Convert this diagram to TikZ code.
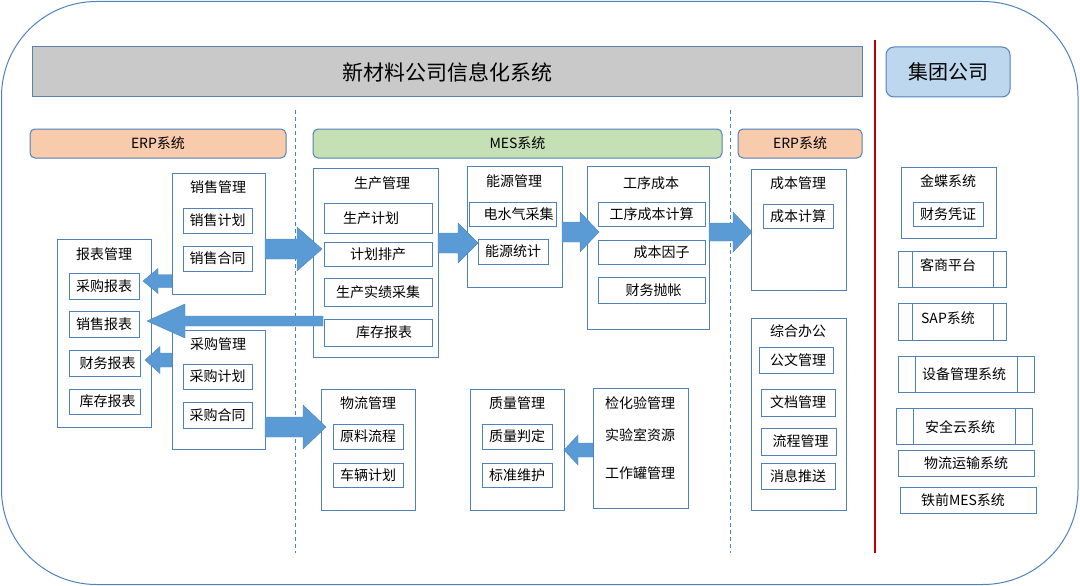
\documentclass[tikz,border=0pt]{standalone}
\usepackage{fontspec}
\setmainfont{Noto Sans CJK SC}
\usetikzlibrary{calc}
\definecolor{bline}{RGB}{79,129,189}
\definecolor{arrfill}{RGB}{91,155,213}
\definecolor{gtitle}{RGB}{201,201,201}
\definecolor{peach}{RGB}{248,203,173}
\definecolor{lgreen}{RGB}{197,224,180}
\definecolor{lblue}{RGB}{189,215,238}
\definecolor{dred}{RGB}{192,0,0}
\newcommand\bx[7][]{\node[box,#1,minimum width={#5-#3},minimum height={#6-#4}] (#2) at ({(#3+#5)/2},{(#4+#6)/2}) {#7};}
\newcommand\barrow[6]{\fill[arr] (#1,{#4-#5}) -- (#2,{#4-#5}) -- (#2,{#4-#6}) -- (#3,#4) -- (#2,{#4+#6}) -- (#2,{#4+#5}) -- (#1,{#4+#5}) -- cycle;}
\newcommand\sh[1]{\hspace*{#1pt}}
\begin{document}
\begin{tikzpicture}[x=1pt,y=-1pt,
  box/.style={draw=bline,fill=white,line width=1pt,inner sep=0pt,outer sep=0pt,font=\fontsize{14}{17}\selectfont},
  hdr/.style={box,rounded corners=5pt},
  ttl/.style={inner sep=0pt,font=\fontsize{14}{17}\selectfont},
  arr/.style={fill=arrfill,draw=arrfill!85!black,line width=0.4pt},
  dline/.style={draw=bline,line width=1pt,dash pattern=on 4pt off 3pt}]
\useasboundingbox (0,0) rectangle (1080,586);
\draw[draw=bline,line width=1pt,rounded corners=95pt] (1.5,1.5) rectangle (1078,584.5);
% title bars
\bx[fill=gtitle,draw=bline!70!gray]{title}{32}{47}{862}{97}{\fontsize{21}{25}\selectfont 新材料公司信息化系统}
\draw[dred,line width=1.5pt] (875,40) -- (875,553);
\bx[rounded corners=8pt,fill=lblue]{grp}{886}{47}{1010}{97}{\fontsize{20}{24}\selectfont 集团公司}
% dashed separators
\draw[dline] (295,110) -- (295,553);
\draw[dline] (730,110) -- (730,553);
% headers
\bx[hdr,fill=peach]{erpL}{30}{129}{286}{158}{ERP系统}
\bx[hdr,fill=lgreen]{mes}{313}{129}{722}{158}{MES系统}
\bx[hdr,fill=peach]{erpR}{738}{129}{862}{158}{ERP系统}
% left ERP
\bx{xs}{172}{173}{265}{294}{}
\node[ttl] (xs-t) at (218,187) {销售管理};
\bx{xs1}{183}{208}{252}{233}{销售计划}
\bx{xs2}{183}{246}{252}{271}{销售合同}
\bx{bb}{57}{239}{151}{427}{}
\node[ttl] (bb-t) at (104,254) {报表管理};
\bx{bb1}{69}{273}{139}{299}{采购报表}
\bx{bb2}{69}{311}{139}{337}{销售报表}
\bx{bb3}{69}{350}{140}{376}{\sh{6}财务报表}
\bx{bb4}{69}{389}{140}{414}{\sh{6}库存报表}
\bx{cg}{172}{330}{265}{449}{}
\node[ttl] (cg-t) at (218,344) {采购管理};
\bx{cg1}{183}{364}{252}{389}{采购计划}
\bx{cg2}{183}{402}{252}{428}{采购合同}
% MES
\bx{sc}{313}{168}{438}{357}{}
\node[ttl] (sc-t) at (382,183) {生产管理};
\bx{sc1}{324}{203}{432}{233}{\sh{-14}生产计划}
\bx{sc2}{324}{242}{432}{266}{计划排产}
\bx{sc3}{324}{278}{432}{306}{生产实绩采集}
\bx{sc4}{324}{319}{432}{346}{\sh{12}库存报表}
\bx{ny}{467}{166}{562}{287}{}
\node[ttl] (ny-t) at (514,181) {能源管理};
\bx{ny1}{469}{202}{556}{226}{\sh{12}电水气采集}
\bx{ny2}{478}{239}{548}{264}{能源统计}
\bx{gx}{587}{166}{709}{329}{}
\node[ttl] (gx-t) at (651,183) {工序成本};
\bx{gx1}{598}{202}{705}{226}{工序成本计算}
\bx{gx2}{598}{240}{705}{264}{\sh{20}成本因子}
\bx{gx3}{598}{277}{705}{303}{\sh{4}财务抛帐}
\bx{wl}{321}{389}{415}{510}{}
\node[ttl] (wl-t) at (368,403) {物流管理};
\bx{wl1}{333}{424}{403}{449}{原料流程}
\bx{wl2}{333}{463}{403}{487}{车辆计划}
\bx{zl}{470}{389}{564}{510}{}
\node[ttl] (zl-t) at (517,403) {质量管理};
\bx{zl1}{482}{424}{552}{449}{质量判定}
\bx{zl2}{482}{463}{552}{487}{标准维护}
\bx{jh}{593}{388}{688}{508}{}
\node[ttl] (jh-t) at (640,403) {检化验管理};
\node[ttl] (jh-a) at (640,435) {实验室资源};
\node[ttl] (jh-b) at (640,473) {工作罐管理};
% right ERP
\bx{cb}{751}{169}{846}{290}{}
\node[ttl] (cb-t) at (798,183) {成本管理};
\bx{cb1}{763}{204}{833}{228}{成本计算}
\bx{zh}{751}{318}{846}{510}{}
\node[ttl] (zh-t) at (798,331) {综合办公};
\bx{zh1}{759}{347}{833}{373}{\sh{4}公文管理}
\bx{zh2}{761}{389}{835}{416}{文档管理}
\bx{zh3}{761}{428}{836}{455}{\sh{4}流程管理}
\bx{zh4}{761}{463}{835}{489}{消息推送}
% group
\bx{jd}{901}{167}{996}{238}{}
\node[ttl] (jd-t) at (948,181) {金蝶系统};
\bx{jd1}{913}{202}{983}{226}{财务凭证}
\bx{ks}{898}{251}{1006}{287}{}
\draw[draw=bline,line width=1pt] (912,251) -- (912,287) (993,251) -- (993,287);
\node[ttl] (ks-t) at (948,265) {客商平台};
\bx{sap}{898}{303}{1006}{340}{}
\draw[draw=bline,line width=1pt] (912,303) -- (912,340) (993,303) -- (993,340);
\node[ttl] (sap-t) at (948,318) {SAP系统};
\bx{sb}{898}{356}{1034}{392}{}
\draw[draw=bline,line width=1pt] (915,356) -- (915,392) (1017,356) -- (1017,392);
\node[ttl] (sb-t) at (964,374) {设备管理系统};
\bx{aq}{896}{408}{1032}{444}{}
\draw[draw=bline,line width=1pt] (913,408) -- (913,444) (1015,408) -- (1015,444);
\node[ttl] (aq-t) at (960,427) {安全云系统};
\bx{ys}{898}{450}{1034}{476}{物流运输系统}
\bx{tq}{900}{487}{1036}{513}{\sh{-10}铁前MES系统}
% block arrows
\barrow{265}{297}{322}{249}{10}{22}
\barrow{438}{458}{478}{243}{10}{20}
\barrow{562}{580}{599}{232}{10}{20}
\barrow{709}{733}{752}{232}{9}{20}
\barrow{323}{185}{147}{321}{5}{17}
\barrow{172}{158}{143}{281}{6.5}{12.5}
\barrow{172}{160}{145}{360}{7}{13.5}
\barrow{265}{303}{326}{427}{10}{22}
\barrow{593}{578}{564}{450}{7}{15}
\end{tikzpicture}
\end{document}
